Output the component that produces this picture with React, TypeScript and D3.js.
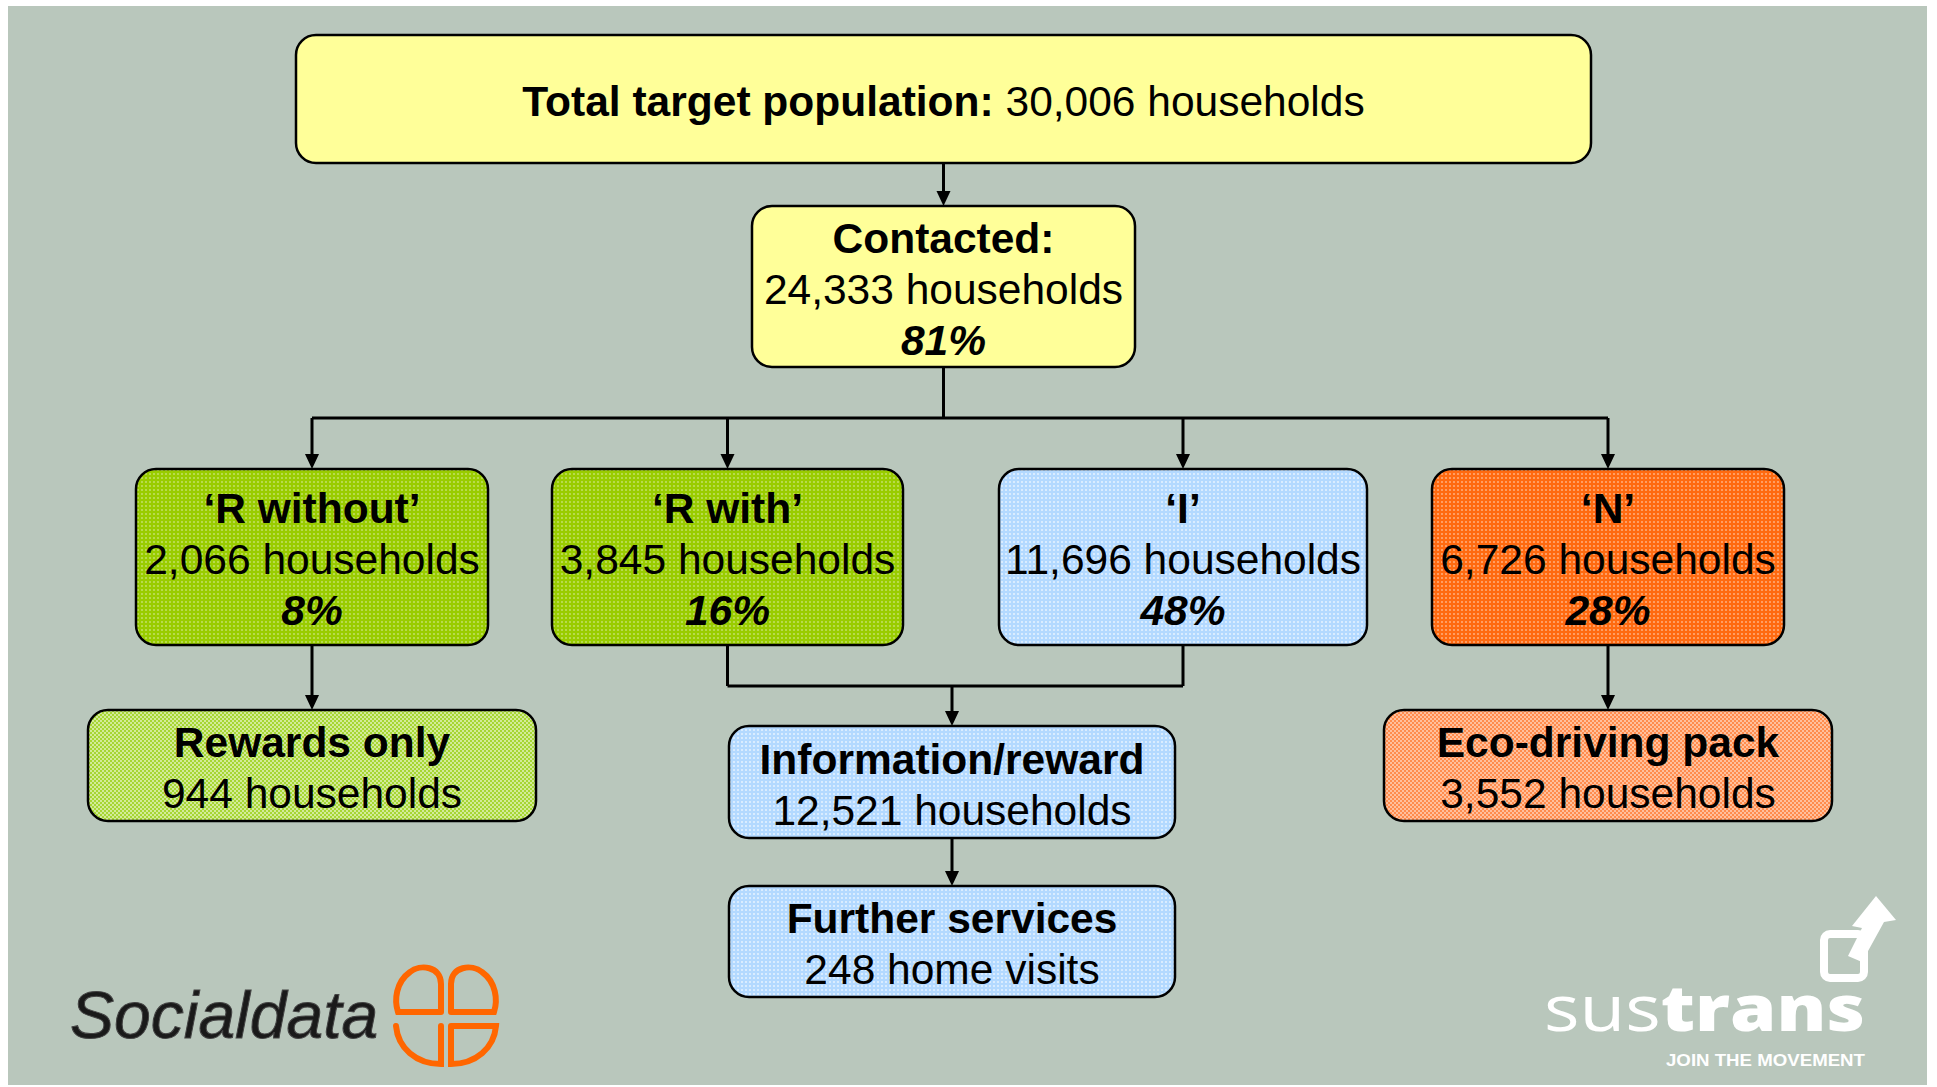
import React from 'react';
import * as d3 from 'd3';

// flow chart values
const boxNames = ['total', 'contacted', 'rwithout', 'rwith', 'i', 'n', 'rewards', 'info', 'further', 'eco'];
const boxTitles = ['Total target population:', 'Contacted:', '\u2018R without\u2019', '\u2018R with\u2019', '\u2018I\u2019', '\u2018N\u2019', 'Rewards only', 'Information/reward', 'Further services', 'Eco-driving pack'];
const boxCounts = ['30,006 households', '24,333 households', '2,066 households', '3,845 households', '11,696 households', '6,726 households', '944 households', '12,521 households', '248 home visits', '3,552 households'];
const boxPercents = ['', '81%', '8%', '16%', '48%', '28%', '', '', '', ''];
const edges = [['total', 'contacted'], ['contacted', 'rwithout'], ['contacted', 'rwith'], ['contacted', 'i'], ['contacted', 'n'], ['rwithout', 'rewards'], ['rwith', 'info'], ['i', 'info'], ['n', 'eco'], ['info', 'further']];

// layout (pixels)
const boxX0 = [296, 752, 136, 552, 999, 1432, 88, 729, 729, 1384];
const boxX1 = [1591, 1135, 488, 903, 1367, 1784, 536, 1175, 1175, 1832];
const boxY0 = [35, 206, 469, 469, 469, 469, 710, 726, 886, 710];
const boxY1 = [163, 367, 645, 645, 645, 645, 821, 838, 997, 821];
const boxFill = ['#FFFF99', '#FFFF99', 'url(#pGreen)', 'url(#pGreen)', 'url(#pBlue)', 'url(#pOrange)', 'url(#pLightGreen)', 'url(#pBlue)', 'url(#pBlue)', 'url(#pLightOrange)'];

const font = "'Liberation Sans', Arial, sans-serif";
const fs = 42.5;
const lineGap = 51;

export default function App() {
  const idx = d3.scaleOrdinal<string, number>().domain(boxNames).range(d3.range(boxNames.length));
  const cx = (n: string) => (boxX0[idx(n)] + boxX1[idx(n)]) / 2;
  const top = (n: string) => boxY0[idx(n)];
  const bot = (n: string) => boxY1[idx(n)];

  // connector lines
  const arrows: [number, number][] = [];
  const splitY = 418;
  const mergeY = 686;
  const p = d3.path();
  edges.forEach(([a, b]) => {
    if (a === 'contacted') {
      p.moveTo(cx(b), splitY);
      p.lineTo(cx(b), top(b) - 12);
      arrows.push([cx(b), top(b)]);
    } else if (b === 'info') {
      p.moveTo(cx(a), bot(a));
      p.lineTo(cx(a), mergeY);
    } else {
      p.moveTo(cx(a), bot(a));
      p.lineTo(cx(b), top(b) - 12);
      arrows.push([cx(b), top(b)]);
    }
  });
  // contacted split bar
  p.moveTo(cx('contacted'), bot('contacted'));
  p.lineTo(cx('contacted'), splitY);
  const splitXs = edges.filter(e => e[0] === 'contacted').map(e => cx(e[1]));
  p.moveTo(d3.min(splitXs)!, splitY);
  p.lineTo(d3.max(splitXs)!, splitY);
  // merge bar down to info
  const mergeXs = edges.filter(e => e[1] === 'info').map(e => cx(e[0]));
  p.moveTo(d3.min(mergeXs)!, mergeY);
  p.lineTo(d3.max(mergeXs)!, mergeY);
  p.moveTo(cx('info'), mergeY);
  p.lineTo(cx('info'), top('info') - 12);
  arrows.push([cx('info'), top('info')]);

  const tri = (x: number, y: number) => `M${x - 7},${y - 15}L${x + 7},${y - 15}L${x},${y}Z`;

  return (
    <svg width={1937} height={1087} style={{ position: 'absolute', left: 0, top: 0 }}>
      <defs>
        <pattern id="pGreen" width={4} height={4} patternUnits="userSpaceOnUse">
          <rect width={4} height={4} fill="#99CC00" />
          <rect x={1} y={1} width={2} height={2} fill="#fff" opacity={0.3} />
        </pattern>
        <pattern id="pLightGreen" width={4} height={4} patternUnits="userSpaceOnUse">
          <rect width={4} height={4} fill="#A6D633" />
          <rect width={2} height={2} fill="#fff" opacity={0.5} />
          <rect x={2} y={2} width={2} height={2} fill="#fff" opacity={0.5} />
        </pattern>
        <pattern id="pBlue" width={4} height={4} patternUnits="userSpaceOnUse">
          <rect width={4} height={4} fill="#B3D9FF" />
          <rect x={1} y={1} width={2} height={2} fill="#fff" opacity={0.5} />
        </pattern>
        <pattern id="pOrange" width={4} height={4} patternUnits="userSpaceOnUse">
          <rect width={4} height={4} fill="#FF6A10" />
          <rect x={1} y={1} width={2} height={2} fill="#fff" opacity={0.35} />
        </pattern>
        <pattern id="pLightOrange" width={4} height={4} patternUnits="userSpaceOnUse">
          <rect width={4} height={4} fill="#FF8C4D" />
          <rect width={2} height={2} fill="#fff" opacity={0.45} />
          <rect x={2} y={2} width={2} height={2} fill="#fff" opacity={0.45} />
        </pattern>
      </defs>

      <rect x={8} y={6} width={1919} height={1079} fill="#B9C7BC" />

      <path d={p.toString()} fill="none" stroke="#000" strokeWidth={3} />
      {arrows.map(([x, y], i) => (
        <path key={i} d={tri(x, y)} fill="#000" />
      ))}

      {boxNames.map((n, i) => {
        const x0 = boxX0[i], x1 = boxX1[i], y0 = boxY0[i], y1 = boxY1[i];
        const mid = (y0 + y1) / 2;
        const isTop = n === 'total';
        const rows: { t: string; w: number; it: boolean }[] = [];
        if (!isTop) {
          rows.push({ t: boxTitles[i], w: 700, it: false });
          rows.push({ t: boxCounts[i], w: 400, it: false });
          if (boxPercents[i]) rows.push({ t: boxPercents[i], w: 700, it: true });
        }
        return (
          <g key={n}>
            <rect x={x0} y={y0} width={x1 - x0} height={y1 - y0} rx={20} ry={20}
              fill={boxFill[i]} stroke="#000" strokeWidth={2.5} />
            {isTop ? (
              <text x={(x0 + x1) / 2} y={mid + 2} textAnchor="middle" dominantBaseline="central"
                fontFamily={font} fontSize={fs} fill="#000">
                <tspan fontWeight={700}>{boxTitles[i]}</tspan>
                <tspan fontWeight={400}> {boxCounts[i]}</tspan>
              </text>
            ) : (
              rows.map((r, j) => (
                <text key={j} x={(x0 + x1) / 2} y={mid + 2.5 + (j - (rows.length - 1) / 2) * lineGap}
                  textAnchor="middle" dominantBaseline="central" fontFamily={font} fontSize={fs}
                  fontWeight={r.w} fontStyle={r.it ? 'italic' : 'normal'} fill="#000">
                  {r.t}
                </text>
              ))
            )}
          </g>
        );
      })}

      {/* Socialdata logo */}
      <text x={70} y={1038} fontFamily={font} fontSize={66} fontStyle="italic" fill="#1a1a1a"
        stroke="#444" strokeWidth={1}>Socialdata</text>
      <g fill="none" stroke="#FF6600" strokeWidth={6} strokeLinecap="round">
        <path d="M441,1012 L441,984 C441,966 420,964 410,972 C396,982 394,1000 398,1012 L441,1012" />
        <path d="M451,1012 L451,984 C451,966 472,964 482,972 C496,982 498,1000 494,1012 L451,1012" />
        <path d="M396,1026 C398,1048 416,1064 441,1064 L441,1026" />
        <path d="M451,1026 L451,1064 C476,1064 494,1048 496,1026 L451,1026" />
      </g>

      {/* sustrans logo */}
      <text x={1544} y={1031} fontFamily="'Open Sans', sans-serif" fontSize={64} fill="#fff"
        textLength={321} lengthAdjust="spacingAndGlyphs">
        <tspan fontWeight={400}>sus</tspan>
        <tspan fontWeight={800}>trans</tspan>
      </text>
      <text x={1666} y={1066} fontFamily={font} fontSize={17} fontWeight={700} fill="#fff"
        textLength={199} lengthAdjust="spacingAndGlyphs">JOIN THE MOVEMENT</text>
      <rect x={1824} y={934} width={40} height={44} rx={6} fill="none" stroke="#fff" strokeWidth={8} />
      <path d="M1848,956 L1862,928 L1852,926 L1876,896 L1896,920 L1884,922 L1862,962 Z" fill="#fff" />
    </svg>
  );
}
